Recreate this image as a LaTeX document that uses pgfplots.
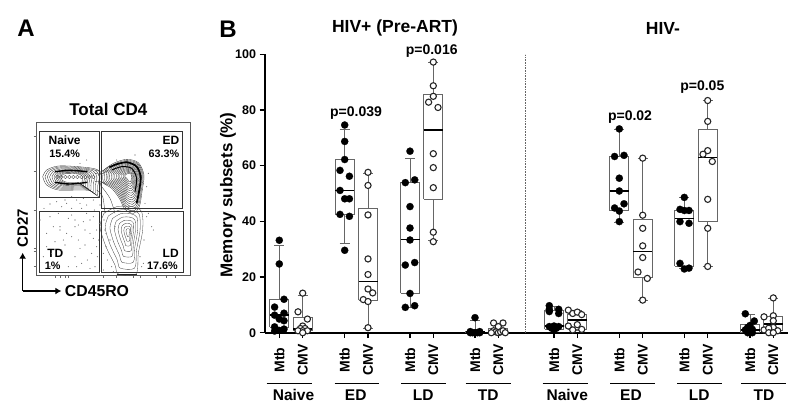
\documentclass[border=0pt]{standalone}
\usepackage{pgfplots}
\pgfplotsset{compat=1.18}
\usetikzlibrary{arrows.meta}
\usepackage{fontspec}
\setmainfont{Liberation Sans}
\newcommand{\fs}[1]{\fontsize{#1}{#1}\selectfont\bfseries}
\newcommand{\bx}[6]{%
\addplot[black!60,line width=.8pt,x filter/.expression={#1+x}] coordinates {(-9.5,#3)(9.5,#3)(9.5,#5)(-9.5,#5)(-9.5,#3)};
\addplot[black!60,line width=.8pt,x filter/.expression={#1+x}] coordinates {(0,#5)(0,#6)};
\addplot[black!60,line width=.8pt,x filter/.expression={#1+x}] coordinates {(-5,#6)(5,#6)};
\addplot[black!60,line width=.8pt,x filter/.expression={#1+x}] coordinates {(0,#3)(0,#2)};
\addplot[black!60,line width=.8pt,x filter/.expression={#1+x}] coordinates {(-5,#2)(5,#2)};
\addplot[black,line width=1.8pt,x filter/.expression={#1+x}] coordinates {(-9.5,#4)(9.5,#4)};
}
\newcommand{\mtb}[1]{\addplot[only marks, mark=*, mark size=3.6pt, mark options={fill=black,draw=black,line width=.2pt}] coordinates {#1};}
\newcommand{\cmv}[1]{\addplot[only marks, mark=*, mark size=3.1pt, mark options={fill=white,draw=black!85,line width=1.1pt}] coordinates {#1};}
\pgfplotstableread{
x y
128 530
140 510
175 498
235 500
290 508
305 530
300 560
298 590
270 572
235 570
175 570
140 555
128 530
}\naive
\pgfplotstableread{
x y
305 515
340 490
380 478
415 488
432 525
426 575
418 620
400 640
375 628
358 595
335 565
305 545
305 515
}\edblob
\pgfplotstableread{
x y
312 640
300 680
318 740
345 795
355 822
408 822
415 760
428 690
425 635
395 620
350 620
312 640
}\ldblob
\begin{document}
\begin{tikzpicture}[x=1pt,y=1pt]
\useasboundingbox (0,0) rectangle (800,416);
% ---- panel A in 630x930 frame (3x pixel coordinates)
\begin{axis}[at={(0pt,106pt)},anchor=south west,width=210pt,height=310pt,scale only axis,hide axis,
  xmin=0,xmax=630,ymin=0,ymax=930,y dir=reverse,clip=false]
\addplot[black!65,line width=.5pt] coordinates {(110,367)(571,367)(571,827)(110,827)(110,367)};
\addplot[black!80,line width=.55pt] coordinates {(119,394)(297,394)(297,591)(119,591)(119,394)};
\addplot[black!80,line width=.55pt] coordinates {(304,394)(548,394)(548,626)(304,626)(304,394)};
\addplot[black!80,line width=.55pt] coordinates {(119,633)(297,633)(297,818)(119,818)(119,633)};
\addplot[black!80,line width=.55pt] coordinates {(304,633)(551,633)(551,818)(304,818)(304,633)};
% scatter specks
\addplot[only marks,mark=*,mark size=.3pt,black!55] coordinates {
(150,650)(180,680)(215,645)(250,665)(280,650)(140,700)(165,725)(200,700)(235,720)(270,700)(290,740)
(130,770)(185,750)(225,770)(262,780)(205,800)(150,800)(285,800)(240,745)(120,660)(175,640)(260,640)
(200,610)(230,600)(170,605)(260,615)(280,600)(300,615)(215,625)(185,620)(245,625)(150,612)
(312,660)(318,700)(330,720)(322,780)(335,800)(310,810)(345,680)(440,650)(455,680)(432,720)(445,520)
(420,770)(430,790)(310,760)(318,740)(240,490)(260,480)(350,480)(405,465)(440,560)(298,670)(296,720)
(180,690)(225,680)(255,690)(140,740)(160,680)(245,790)(275,760)(132,625)(225,660)(195,735)(460,690)
(205,655)(270,660)(235,675)(290,690)(280,715)(255,735)(215,710)(190,720)(155,760)(270,805)(230,800)
(292,770)(283,630)(240,610)(195,600)(215,590)(250,595)(435,610)(445,640)(425,800)(340,815)(315,690)};
% naive contours
\pgfplotsinvokeforeach{1,.92,.84,.76,.68,.61,.55,.49,.43,.37}{
\addplot[smooth,black!85,line width=.32pt,x filter/.expression={215+(x-215)*#1},y filter/.expression={533+(y-533)*#1}] table {\naive};}
\addplot[smooth,black,line width=1.4pt] coordinates {(165,515)(210,511)(262,515)};
\addplot[smooth,black,line width=1.4pt] coordinates {(165,547)(210,552)(262,547)};
\addplot[only marks,mark=o,mark size=1.7pt,black!70,mark options={line width=.35pt}] coordinates {(172,531)(184,531)(196,531)(208,531)(220,531)(232,531)(244,531)(256,531)(268,531)(280,531)};
% neck between the naive and ED clusters
\addplot[smooth,black!80,line width=.32pt] coordinates {(285,510)(305,514)(325,500)};
\addplot[smooth,black!80,line width=.32pt] coordinates {(285,520)(305,522)(325,510)};
\addplot[smooth,black!80,line width=.32pt] coordinates {(285,545)(305,545)(320,555)};
\addplot[smooth,black!80,line width=.32pt] coordinates {(290,570)(308,590)(315,640)};
\addplot[smooth,black!80,line width=.32pt] coordinates {(305,560)(330,595)(345,640)};
% ED contours
\pgfplotsinvokeforeach{1,.94,.88,.82,.76,.7,.64,.58,.52,.46,.4,.34,.28,.22,.16}{
\addplot[smooth,black!85,line width=.32pt,x filter/.expression={388+(x-388)*#1},y filter/.expression={528+(y-528)*#1}] table {\edblob};}
\addplot[smooth,black,line width=1.7pt] coordinates {(328,502)(352,492)(382,487)(410,500)(422,530)(418,570)(410,610)};
\addplot[smooth,black,line width=1pt] coordinates {(335,510)(365,500)(395,505)(410,535)(405,575)};
% LD contours
\pgfplotsinvokeforeach{1,.86,.72,.58,.45,.33,.22,.12}{
\addplot[smooth,black!75,line width=.32pt,x filter/.expression={385+(x-385)*#1*(.65+.35*#1)},y filter/.expression={695+(y-695)*#1}] table {\ldblob};}
\addplot[black!85,line width=.7pt] coordinates {(350,822)(410,822)};
% flow-plot ticks
\pgfplotsinvokeforeach{408,515,630,745,755,800}{\draw[black!60,line width=.4pt] (axis cs:101,#1) -- (axis cs:110,#1);}
\pgfplotsinvokeforeach{165,180,195,205,310,350,400,420,470,500,525}{\draw[black!60,line width=.4pt] (axis cs:#1,827) -- (axis cs:#1,835);}
% arrows
\addplot[black,line width=1.5pt,-{Latex[length=6pt,width=7pt]}] coordinates {(68,873)(68,758)};
\addplot[black,line width=1.5pt,-{Latex[length=6pt,width=7pt]}] coordinates {(68,873)(184,873)};
% text
\node[font=\fs{24}] at (axis cs:78,86) {A};
\node[font=\fs{17}] at (axis cs:325,328) {Total CD4};
\node[font=\fs{12}] at (axis cs:194,422) {Naive};
\node[font=\fs{10.8}] at (axis cs:194,462) {15.4\%};
\node[font=\fs{12}] at (axis cs:513,422) {ED};
\node[font=\fs{10.8}] at (axis cs:492,462) {63.3\%};
\node[font=\fs{12}] at (axis cs:166,760) {TD};
\node[font=\fs{10.8}] at (axis cs:158,798) {1\%};
\node[font=\fs{12}] at (axis cs:512,760) {LD};
\node[font=\fs{10.8}] at (axis cs:487,798) {17.6\%};
\node[font=\fs{15},rotate=90] at (axis cs:68,685) {CD27};
\node[font=\fs{15.8}] at (axis cs:291,873) {CD45RO};
\end{axis}
% ---- panel B
\begin{axis}[at={(265pt,83.3pt)},anchor=south west,width=523pt,height=278.4pt,scale only axis,
  xmin=265,xmax=788,ymin=0,ymax=100,clip=false,
  axis lines=left,axis line style={-,line width=1.7pt},
  ytick={0,20,40,60,80,100},
  xtick={279.3,302.7,344.7,368,410,433.3,475,498.3,554,577.3,619.3,642.7,684.3,707.7,750,773.3},
  xticklabels={Mtb,CMV,Mtb,CMV,Mtb,CMV,Mtb,CMV,Mtb,CMV,Mtb,CMV,Mtb,CMV,Mtb,CMV},
  tick align=outside,major tick length=5.5pt,tick style={black,line width=1.3pt},
  y tick label style={font=\fs{12.5},/pgf/number format/assume math mode=true},
  x tick label style={font=\fs{14},rotate=90,anchor=center,xshift=-22pt},
]
\addplot[black!60,line width=.6pt,densely dotted] coordinates {(525,0)(525,100)};
% HIV+
\bx{279.3}{.5}{2}{6.5}{12}{31.3}
\mtb{(279.3,33.2)(279.3,24.7)(284,12)(274.6,9.2)(284,7)(274.6,6.3)(279.3,4.9)(284,4.3)(274.6,2.1)(284,1.3)(279.3,.8)(274.6,.6)}
\bx{302.7}{0}{1}{1.2}{5.4}{13.5}
\cmv{(302.7,14.2)(298,7.5)(307.4,4.9)(302.7,2.4)(300.4,1.5)(305,1.5)(302.7,.7)(298,.7)(307.4,.7)(302.7,0)}
\bx{344.7}{31.9}{42.4}{51.1}{62.2}{73.2}
\mtb{(344.7,74.6)(344.7,68.7)(344.7,62.2)(340,58.3)(349.4,56.2)(340,51.1)(344.7,48.1)(349.4,48.1)(340,42.5)(349.4,41.8)(344.7,29.6)}
\bx{368}{1.5}{11.6}{18.4}{44.8}{57.2}
\cmv{(368,57.6)(368,52.9)(368,42.3)(368,26.5)(368,20.9)(368,15.7)(372.7,14.3)(363.3,11.9)(368,11.2)(368,1.8)}
\bx{410}{9}{14.1}{33.5}{53.9}{62.5}
\mtb{(410,65.2)(405.3,53.9)(414.7,54.9)(410,45.3)(410,37.6)(410,33.3)(405.3,24.3)(414.7,25.2)(410,14.1)(405.3,9.1)(414.7,9.7)}
\bx{433.3}{33}{47.9}{72.7}{85.7}{97}
\cmv{(433.3,97.2)(433.3,88.7)(433.3,84.9)(428.6,82.8)(438,80.9)(433.3,64.3)(433.3,59.3)(433.3,52.1)(433.3,36.1)(433.3,32.7)}
\bx{475}{0}{0}{.2}{.5}{4.3}
\mtb{(475,5.4)(470.3,0)(472.7,0)(475,0)(477.3,0)(479.7,0)(470.3,.4)(479.7,.4)}
\bx{498.3}{0}{0}{.5}{1.5}{2.7}
\cmv{(493.6,3.5)(503,3.5)(498.3,2.2)(493.6,.7)(496,.3)(498.3,0)(500.6,.3)(503,.7)(491.3,0)(505.3,0)}
% HIV-
\bx{554}{1}{1.2}{2.4}{7.9}{9.5}
\mtb{(549.3,9.7)(549.3,8.4)(558.7,8.4)(558.7,6.9)(549.3,7.6)(549.3,2.2)(554,2.4)(558.7,2.2)(551.7,1.6)(556.3,1.6)(554,1.2)}
\bx{577.3}{1}{1.2}{4.5}{6.7}{8}
\cmv{(568.3,8.1)(572.7,6.9)(577.3,7.4)(581.7,6.5)(568.3,2.4)(577.3,2.9)(572.7,1)(581.7,1.2)}
\bx{619.3}{39.5}{43.8}{50.8}{63.3}{73}
\mtb{(619.3,73.2)(614.6,63.3)(624,63.7)(619.3,55.5)(619.3,50.9)(624,46.3)(614.6,44.8)(619.3,43.7)(619.3,39.9)}
\bx{642.7}{11.7}{19.8}{29.2}{40.8}{62.7}
\cmv{(642.7,62.7)(642.7,42.2)(642.7,37.5)(642.7,31.2)(642.7,27)(638,21.8)(647.3,19.5)(642.7,11.7)}
\bx{684.3}{23}{23.9}{41}{43.9}{48.6}
\mtb{(684.3,48.6)(680,44.3)(689,43.9)(684.3,43.9)(680,39.9)(689,39.3)(680,24.9)(684.3,22.9)(689,23.2)}
\bx{707.7}{23.8}{39.9}{62.9}{73.2}{83.4}
\cmv{(707.7,83.4)(707.7,75.9)(707.7,65.4)(703,64.1)(712.3,61.5)(707.7,47.9)(707.7,37.5)(707.7,23.8)}
\bx{750}{0}{0}{1}{3.1}{6.5}
\mtb{(745.3,6.8)(754.3,4.2)(750,2.6)(747.7,1.9)(745.3,1)(752.3,1.2)(750,0)(747.7,0)(752.3,0)}
\bx{773.3}{0}{.7}{3.1}{5.7}{12.5}
\cmv{(773.3,12.5)(773.3,6.1)(764,5.7)(773.3,4.3)(773.3,1.9)(764,1)(768.7,1.6)(777.7,.7)(768.7,0)(773.3,0)}
\end{axis}
% ---- text of panel B, in pixel coordinates
\begin{axis}[at={(0pt,0pt)},anchor=south west,width=800pt,height=416pt,scale only axis,hide axis,
  xmin=0,xmax=800,ymin=0,ymax=416,y dir=reverse,clip=false]
\node[font=\fs{24}] at (axis cs:228,29) {B};
\node[font=\fs{17.5}] at (axis cs:395,28) {HIV+ (Pre-ART)};
\node[font=\fs{17.5}] at (axis cs:663,28) {HIV-};
\node[font=\fs{17},rotate=90] at (axis cs:228,195) {Memory subsets (\%)};
\node[font=\fs{14}] at (axis cs:356,113) {p=0.039};
\node[font=\fs{14}] at (axis cs:431.7,51) {p=0.016};
\node[font=\fs{14}] at (axis cs:630,117) {p=0.02};
\node[font=\fs{14}] at (axis cs:702.3,87) {p=0.05};
\addplot[black,line width=.9pt] coordinates {(266.7,383.5)(311.7,383.5)};
\addplot[black,line width=.9pt] coordinates {(334.7,383.5)(379.3,383.5)};
\addplot[black,line width=.9pt] coordinates {(401.3,383.5)(446,383.5)};
\addplot[black,line width=.9pt] coordinates {(465.7,383.5)(510.7,383.5)};
\addplot[black,line width=.9pt] coordinates {(542.7,383.5)(587.7,383.5)};
\addplot[black,line width=.9pt] coordinates {(610,383.5)(655,383.5)};
\addplot[black,line width=.9pt] coordinates {(677,383.5)(721.7,383.5)};
\addplot[black,line width=.9pt] coordinates {(741.3,383.5)(786.3,383.5)};
\node[font=\fs{15.5}] at (axis cs:293.5,395) {Naive};
\node[font=\fs{15.5}] at (axis cs:355.7,395) {ED};
\node[font=\fs{15.5}] at (axis cs:423.3,395) {LD};
\node[font=\fs{15.5}] at (axis cs:488.3,395) {TD};
\node[font=\fs{15.5}] at (axis cs:567.3,395) {Naive};
\node[font=\fs{15.5}] at (axis cs:631,395) {ED};
\node[font=\fs{15.5}] at (axis cs:699.3,395) {LD};
\node[font=\fs{15.5}] at (axis cs:764,395) {TD};
\end{axis}
\end{tikzpicture}
\end{document}
